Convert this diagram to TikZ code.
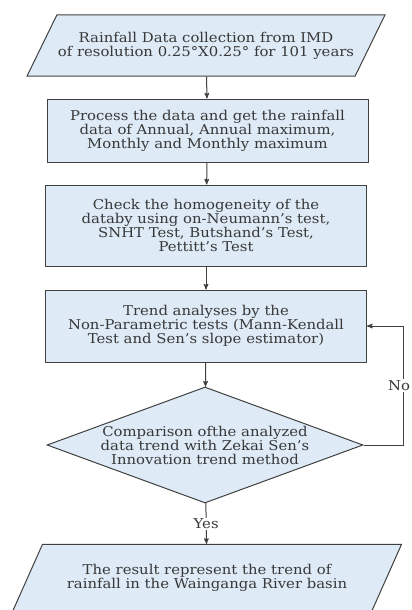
\documentclass[tikz,border=0pt]{standalone}
\usepackage{fontspec}
\setmainfont[FakeStretch=1.1]{DejaVu Serif}
\usetikzlibrary{arrows,shapes.geometric,positioning}

\definecolor{stepfill}{HTML}{DEEBF7}
\definecolor{stepline}{HTML}{404040}
\definecolor{steptext}{HTML}{383838}

\begin{document}
\begin{tikzpicture}
    [
      x=1pt,y=-1pt,
      every node/.style={font=\fontsize{13.5}{14}\selectfont,text=steptext},
      io/.style={trapezium,trapezium stretches body,draw=stepline,fill=stepfill,
        line width=1pt,align=center,inner xsep=0pt},
      process/.style={rectangle,draw=stepline,fill=stepfill,line width=1pt,
        align=center,inner sep=0pt,minimum width=321pt},
      decision/.style={diamond,aspect=2.72,draw=stepline,fill=stepfill,line width=1pt,
        align=center,inner sep=-3pt,minimum width=316pt,minimum height=116pt},
      post/.style={->,>=stealth',line width=1pt,draw=stepline},
      tag/.style={fill=white,inner sep=1pt},
    ]

    \useasboundingbox (0,0) rectangle (412,610);

    \node (collect) [io,trapezium left angle=64,trapezium right angle=116,
      inner ysep=17pt,minimum width=358pt] at (206,45.5)
      {Rainfall Data collection from IMD\\of resolution 0.25°X0.25° for 101 years};
    \node (process) [process,minimum height=63pt] at (207.5,130.5)
      {Process the data and get the rainfall\\data of Annual, Annual maximum,\\Monthly and Monthly maximum};
    \node (homog) [process,minimum height=81pt] at (206,225.5)
      {Check the homogeneity of the\\databy using on-Neumann's test,\\SNHT Test, Butshand's Test,\\Pettitt's Test};
    \node (trend) [process,minimum height=72pt] at (206,326)
      {Trend analyses by the\\Non-Parametric tests (Mann-Kendall\\Test and Sen's slope estimator)};
    \node (compare) [decision] at (205,445)
      {Comparison ofthe analyzed\\data trend with Zekai Sen's\\Innovation trend method};
    \node (result) [io,trapezium left angle=66,trapezium right angle=114,
      inner ysep=20pt,minimum width=389pt] at (207,578)
      {The result represent the trend of\\rainfall in the Wainganga River basin};

    \coordinate (loop) at (403,445);

    \path
    (collect) edge [post] (process)
    (process) edge [post] (homog)
    (homog) edge [post] (trend)
    (trend) edge [post] (compare)
    (compare) edge [post] node [tag] {Yes} (result)
    ;

    \draw [post] (compare.east) -- (loop) |- node [tag,pos=0.25,xshift=-4pt] {No} (trend.east);

\end{tikzpicture}
\end{document}
